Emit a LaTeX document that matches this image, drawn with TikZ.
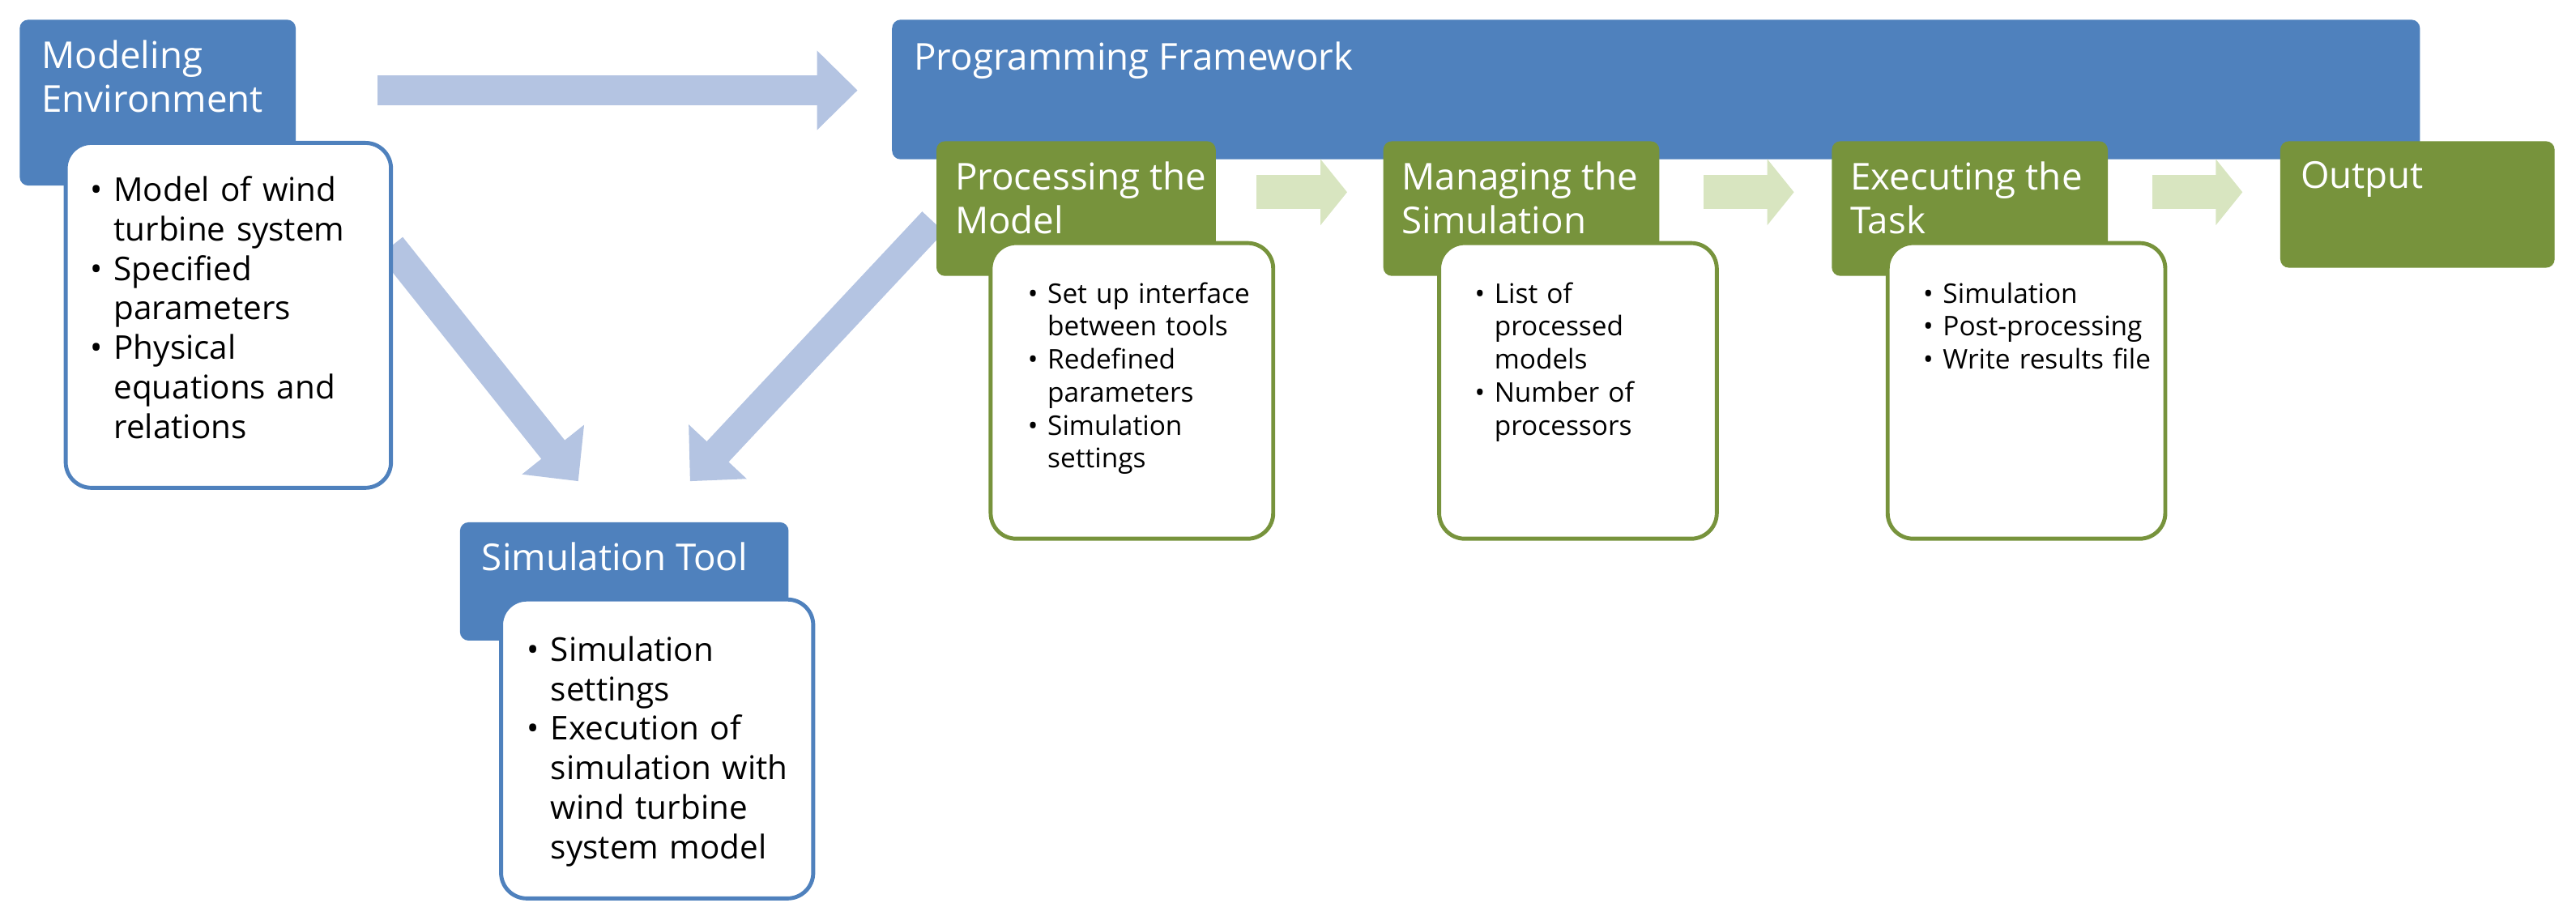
\documentclass[tikz,border=0pt]{standalone}
\usepackage{fontspec}
\setmainfont{Open Sans}
\usepackage{enumitem}
\setlist[itemize]{leftmargin=1.05em,nosep,label=\textbullet,labelsep=0.35em}
\usetikzlibrary{fit,arrows.meta}
\definecolor{bl}{HTML}{4F81BD}
\definecolor{gr}{HTML}{77933C}
\definecolor{lbl}{HTML}{B4C4E2}
\definecolor{lgr}{HTML}{D8E5C0}
\tikzset{
 hb/.style={fill=bl,draw=none,rounded corners=3pt,inner sep=0pt},
 hg/.style={fill=gr,draw=none,rounded corners=3pt,inner sep=0pt},
 wb/.style={fill=white,draw=bl,line width=1.4pt,rounded corners=9pt,inner sep=0pt},
 wg/.style={fill=white,draw=gr,line width=1.4pt,rounded corners=9pt,inner sep=0pt},
 ttl/.style={anchor=north west,text=white,align=left,inner sep=0pt,font=\fontsize{13}{15.5}\selectfont},
 bigtxt/.style={anchor=north west,inner sep=0pt,text width=4.1cm,font=\fontsize{11.5}{13.9}\selectfont},
 smtxt/.style={anchor=north west,inner sep=0pt,text width=3.3cm,font=\fontsize{9.5}{11.6}\selectfont},
 barrow/.style={draw=lbl,line width=0.37cm,-{Triangle[length=0.5cm,width=0.95cm]}},
 garrow/.style={draw=lgr,line width=0.42cm,-{Triangle[length=0.33cm,width=0.8cm]}},
}
\begin{document}
\begin{tikzpicture}[x=0.02028cm,y=-0.02028cm]
\useasboundingbox (0,0) rectangle (1568,559.7);
% arrows
\coordinate (a1s) at (230,55); \coordinate (a1e) at (522,55);
\coordinate (a2s) at (238,150); \coordinate (a2e) at (352,293);
\coordinate (a3s) at (568,135); \coordinate (a3e) at (420,293);
\draw[barrow] (a1s) -- (a1e);
\draw[barrow] (a2s) -- (a2e);
% Modeling environment
\node[hb,fit={(12,12) (180,113)}] (me) {};
\node[ttl] (met) at (25,24) {Modeling\\Environment};
\node[wb,fit={(40,87) (238,297)}] (mew) {};
\node[bigtxt] (mel) at (48,98) {\begin{itemize}
\item Model of wind\newline turbine system
\item Specified\newline parameters
\item Physical\newline equations and\newline relations
\end{itemize}};
% Programming framework
\node[hb,fit={(543,12) (1473,97)}] (pf) {};
\node[ttl] (pft) at (556,25) {Programming Framework};
\draw[barrow] (a3s) -- (a3e);
% Simulation tool
\node[hb,fit={(280,318) (480,390)}] (st) {};
\node[ttl] (stt) at (293,330) {Simulation Tool};
\node[wb,fit={(305,365) (495,547)}] (stw) {};
\node[bigtxt] (stl) at (314,378) {\begin{itemize}
\item Simulation\newline settings
\item Execution of\newline simulation with\newline wind turbine\newline system model
\end{itemize}};
% green arrows
\coordinate (g1s) at (765,117); \coordinate (g1e) at (820,117);
\coordinate (g2s) at (1037,117); \coordinate (g2e) at (1092,117);
\coordinate (g3s) at (1310,117); \coordinate (g3e) at (1365,117);
\draw[garrow] (g1s) -- (g1e);
\draw[garrow] (g2s) -- (g2e);
\draw[garrow] (g3s) -- (g3e);
% Processing
\node[hg,fit={(570,86) (740,168)}] (pm) {};
\node[ttl] (pmt) at (581,98) {Processing the\\Model};
\node[wg,fit={(603,148) (775,328)}] (pmw) {};
\node[smtxt] (pml) at (620,164) {\begin{itemize}
\item Set up interface\newline between tools
\item Redefined\newline parameters
\item Simulation\newline settings
\end{itemize}};
% Managing
\node[hg,fit={(842,86) (1010,168)}] (ms) {};
\node[ttl] (mst) at (853,98) {Managing the\\Simulation};
\node[wg,fit={(876,148) (1045,328)}] (msw) {};
\node[smtxt] (msl) at (892,164) {\begin{itemize}
\item List of\newline processed\newline models
\item Number of\newline processors
\end{itemize}};
% Executing
\node[hg,fit={(1115,86) (1283,168)}] (et) {};
\node[ttl] (ett) at (1126,98) {Executing the\\Task};
\node[wg,fit={(1149,148) (1318,328)}] (etw) {};
\node[smtxt] (etl) at (1165,164) {\begin{itemize}
\item Simulation
\item Post-processing
\item Write results file
\end{itemize}};
% Output
\node[hg,fit={(1388,86) (1555,163)}] (out) {};
\node[ttl] (outt) at (1400,98) {Output};
\end{tikzpicture}
\end{document}
